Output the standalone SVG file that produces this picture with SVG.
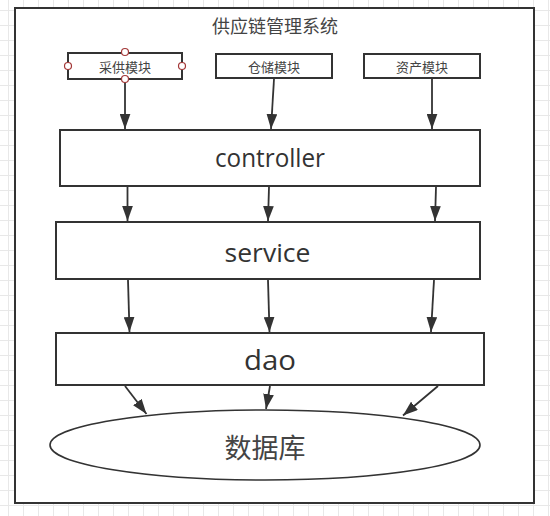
<svg xmlns="http://www.w3.org/2000/svg" width="550" height="516" viewBox="0 0 550 516">
<style>
.box{fill:#fff;stroke:#333;stroke-width:2}
.ell{fill:#fff;stroke:#333;stroke-width:1.6}
.edge{fill:none;stroke:#333;stroke-width:1.8;marker-end:url(#arr)}
.handle{fill:#fff;stroke:#a33838;stroke-width:1.2}
.t{font-family:'Open Sans','Noto Sans CJK SC',sans-serif;fill:#333;text-anchor:middle}
.cjk{font-family:'Noto Sans CJK SC','Open Sans',sans-serif;fill:#444;text-anchor:middle}
</style>
<defs>
<pattern id="grid" patternUnits="userSpaceOnUse" x="8" y="10" width="15" height="15">
<path d="M0.5,0V15M0,0.5H15" stroke="#e8e8e8" stroke-width="1" fill="none"/>
</pattern>
<marker id="arr" markerUnits="userSpaceOnUse" markerWidth="15" markerHeight="11" refX="14" refY="5" orient="auto" viewBox="0 0 14 10">
<path d="M0,0L14,5L0,10z" fill="#333"/>
</marker>
</defs>
<rect width="550" height="516" fill="#fff"/>
<rect width="550" height="516" fill="url(#grid)"/>
<g id="frame">
<rect class="box" x="15" y="8" width="519" height="495"/>
<text class="cjk" x="275" y="33" font-size="18">供应链管理系统</text>
</g>
<g id="connectors">
<line class="edge" x1="125" y1="80" x2="125" y2="129"/>
<line class="edge" x1="274" y1="79" x2="271" y2="129"/>
<line class="edge" x1="432" y1="79" x2="432" y2="129"/>
<line class="edge" x1="127.5" y1="187" x2="127.5" y2="221"/>
<line class="edge" x1="269" y1="187" x2="268" y2="221"/>
<line class="edge" x1="436" y1="187" x2="435" y2="221"/>
<line class="edge" x1="128" y1="280" x2="129.5" y2="332"/>
<line class="edge" x1="268" y1="280" x2="269.5" y2="332"/>
<line class="edge" x1="434" y1="280" x2="431" y2="332"/>
<line class="edge" x1="125" y1="386" x2="146.5" y2="414"/>
<line class="edge" x1="270" y1="386" x2="266" y2="409"/>
<line class="edge" x1="438" y1="386" x2="403" y2="415.5"/>
</g>
<g id="module-caigong">
<rect class="box" x="68" y="53" width="114" height="26"/>
<text class="cjk" x="125" y="72" font-size="13">采供模块</text>
<circle class="handle" cx="125" cy="52" r="3.5"/>
<circle class="handle" cx="125" cy="79" r="3.5"/>
<circle class="handle" cx="68" cy="66" r="3.5"/>
<circle class="handle" cx="182" cy="66" r="3.5"/>
</g>
<g id="module-cangchu">
<rect class="box" x="216" y="54" width="116" height="24"/>
<text class="cjk" x="274" y="72" font-size="13">仓储模块</text>
</g>
<g id="module-zichan">
<rect class="box" x="364" y="54" width="116" height="24"/>
<text class="cjk" x="422" y="72" font-size="13">资产模块</text>
</g>
<g id="controller">
<rect class="box" x="60" y="130" width="420" height="56"/>
<text class="t" x="270" y="167" font-size="26" textLength="110" lengthAdjust="spacingAndGlyphs">controller</text>
</g>
<g id="service">
<rect class="box" x="56" y="222" width="424" height="57"/>
<text class="t" x="267.5" y="262" font-size="26" textLength="86" lengthAdjust="spacingAndGlyphs">service</text>
</g>
<g id="dao">
<rect class="box" x="56" y="333" width="428" height="52"/>
<text class="t" x="270" y="370" font-size="28" textLength="52" lengthAdjust="spacingAndGlyphs">dao</text>
</g>
<g id="database">
<ellipse class="ell" cx="265" cy="445" rx="215" ry="35"/>
<text class="cjk" x="265" y="458" font-size="27">数据库</text>
</g>
</svg>
